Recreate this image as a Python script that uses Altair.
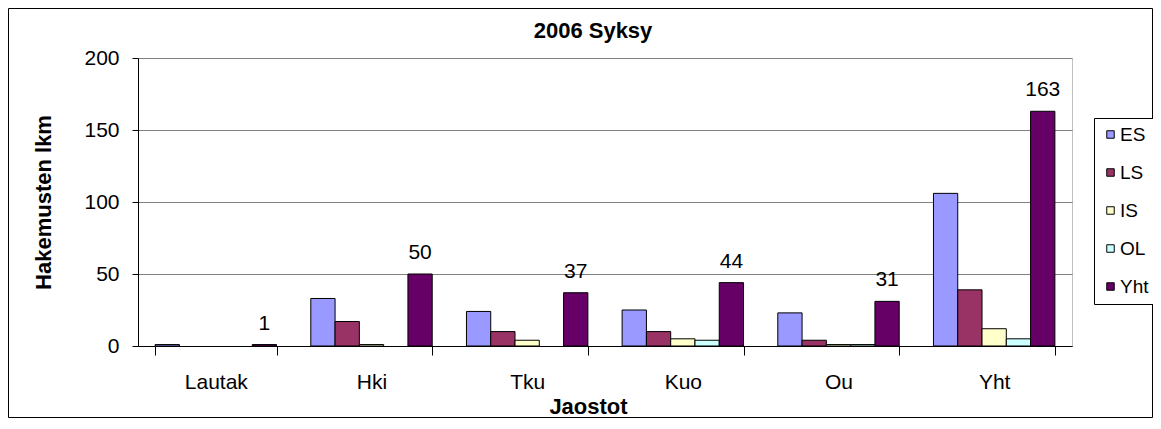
import altair as alt
import pandas as pd

categories = ["Lautak", "Hki", "Tku", "Kuo", "Ou", "Yht"]
series = ["ES", "LS", "IS", "OL", "Yht"]
es = [1, 33, 24, 25, 23, 106]
ls = [0, 17, 10, 10, 4, 39]
is_ = [0, 1, 4, 5, 1, 12]
ol = [0, 0, 0, 4, 1, 5]
yht = [1, 50, 37, 44, 31, 163]
colors = ["#9999FF", "#993366", "#FFFFCC", "#CCFFFF", "#660066"]
y_ticks = [0, 50, 100, 150, 200]

rows = []
for s, vals in zip(series, [es, ls, is_, ol, yht]):
    for c, v in zip(categories, vals):
        rows.append({"Jaosto": c, "Sarja": s, "Arvo": v})
df = pd.DataFrame(rows)

FONT = "Liberation Sans"
W, H = 934, 288
PAD = {"left": 130, "top": 50, "right": 81, "bottom": 72}

x = alt.X(
    "Jaosto:N",
    sort=categories,
    scale=alt.Scale(domain=categories, paddingInner=0.22, paddingOuter=0.11),
    axis=alt.Axis(
        title="Jaostot", labelAngle=0, tickBand="extent", tickSize=9,
        labelPadding=16, labelFontSize=21, grid=False,
        titleFontSize=22, titleFontWeight="bold",
        titleX=450, titleY=67, titleBaseline="alphabetic", titleAlign="center",
    ),
)
xo = alt.XOffset("Sarja:N", sort=series,
                 scale=alt.Scale(domain=series, paddingInner=0, paddingOuter=0))
y = alt.Y(
    "Arvo:Q",
    scale=alt.Scale(domain=[0, 200]),
    axis=alt.Axis(
        values=y_ticks, title="Hakemusten lkm", tickSize=6, labelPadding=13,
        labelFontSize=21, grid=True, gridColor="#808080",
        titleFontSize=22, titleFontWeight="bold",
        titleX=-88, titleBaseline="alphabetic",
    ),
)

bars = (
    alt.Chart(df)
    .transform_filter("datum.Arvo > 0")
    .mark_bar(stroke="black", strokeWidth=1)
    .encode(
        x=x, xOffset=xo, y=y,
        fill=alt.Fill(
            "Sarja:N", sort=series,
            scale=alt.Scale(domain=series, range=colors),
            legend=alt.Legend(
                title=None, orient="none", legendX=956, legendY=60,
                strokeColor="black", fillColor="white", padding=7,
                symbolType="square", symbolSize=56, symbolStrokeColor="black",
                symbolStrokeWidth=1, labelFontSize=19, labelFont=FONT,
                rowPadding=18, labelOffset=0, labelColor="black",
            ),
        ),
    )
)

labels = (
    alt.Chart(df)
    .transform_filter("datum.Sarja == 'Yht'")
    .mark_text(dy=-15, baseline="alphabetic", fontSize=21, font=FONT, color="black")
    .encode(x=x, xOffset=xo, y=y, text="Arvo:Q")
)

frame = (
    alt.Chart(alt.Data(values=[{"a": 1}]))
    .mark_rect(fill="transparent", stroke="black", strokeWidth=1)
    .encode(
        x=alt.value(-PAD["left"] + 0.5), x2=alt.value(W + PAD["right"] - 0.5),
        y=alt.value(-PAD["top"] + 0.5), y2=alt.value(H + PAD["bottom"] - 0.5),
    )
)

chart = (
    alt.layer(frame, bars, labels)
    .properties(
        width=W, height=H,
        autosize=alt.AutoSizeParams(type="none"),
        padding=PAD,
        title=alt.TitleParams(
            "2006 Syksy", font=FONT, fontSize=22, fontWeight="bold",
            anchor="middle", frame="group", dx=-12, offset=-35, color="black",
        ),
    )
    .configure_view(stroke="#C0C0C0")
    .configure_axis(
        domainColor="black", tickColor="black", labelFont=FONT, titleFont=FONT,
        labelColor="black", titleColor="black",
    )
)

chart.save("out.html", embed_options={"renderer": "svg", "actions": False})
